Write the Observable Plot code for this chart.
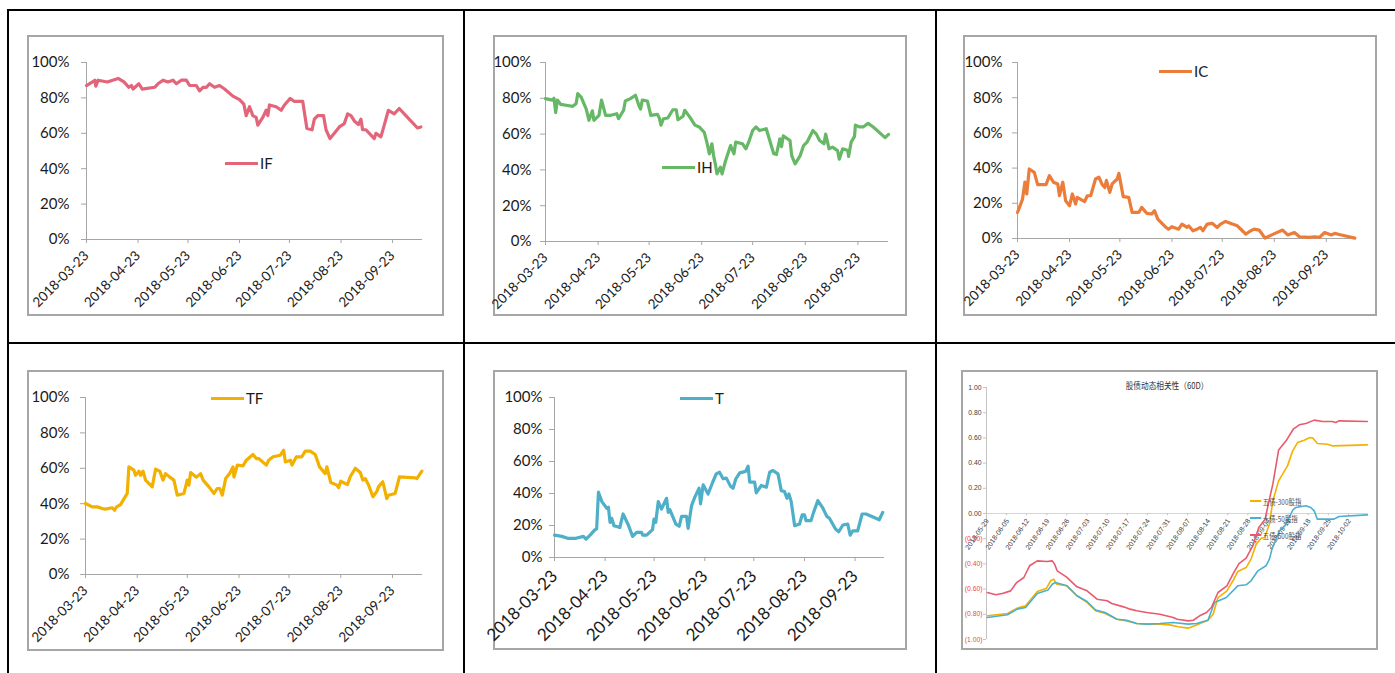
<!DOCTYPE html>
<html><head><meta charset="utf-8">
<script src="https://cdn.jsdelivr.net/npm/d3@7"></script>
<script src="https://cdn.jsdelivr.net/npm/@observablehq/plot@0.6"></script>
<style>
body{margin:0;background:#fff;}
#root{position:relative;width:1395px;height:673px;overflow:hidden;background:#fff;font-family:Lato,sans-serif;}
.rule{position:absolute;background:#000;}
.panel{position:absolute;border:2px solid #a6a6a6;box-sizing:border-box;}
.plot{position:absolute;}
.leg{position:absolute;display:flex;align-items:center;height:18px;font:15px Lato,sans-serif;color:#1a1a1a;white-space:nowrap;}
.leg i{display:inline-block;width:33px;height:3px;margin-right:2px;}
.leg6{position:absolute;display:flex;align-items:center;height:12px;font:8px "Noto Sans CJK SC",sans-serif;color:#505050;white-space:nowrap;transform:scaleX(0.8);transform-origin:left center;}
.leg6 i{display:inline-block;width:14px;height:2px;margin-right:2px;}
.title6{position:absolute;font:9px "Noto Sans CJK SC",sans-serif;color:#303030;white-space:nowrap;transform:translateX(-50%) scaleX(0.85);}
</style></head><body><div id="root"></div>
<script>
// ---------- data ----------
const monthTicks = ["2018-03-23","2018-04-23","2018-05-23","2018-06-23","2018-07-23","2018-08-23","2018-09-23"];
const pctTicks = [0,20,40,60,80,100];
const weekTicks = ["2018-05-29","2018-06-05","2018-06-12","2018-06-19","2018-06-26","2018-07-03","2018-07-10","2018-07-17","2018-07-24","2018-07-31","2018-08-07","2018-08-14","2018-08-21","2018-08-28","2018-09-04","2018-09-11","2018-09-18","2018-09-25","2018-10-02"];
const corrTicksPos = [1,0.8,0.6,0.4,0.2,0];
const corrTicksNeg = [-0.2,-0.4,-0.6,-0.8,-1];
const seriesNames = ["IF","IH","IC","TF","T"];
const corrNames = ["五债-300股指","十债-50股指","五债-500股指"];

// [days since 2018-03-23, percent]
const IF = [[0,87],[3.6,89],[5,90],[5.6,86.6],[7,90],[12.5,89],[19,91],[22.5,89],[25.5,86],[27,87],[28,85],[31.5,88],[33.5,85],[41,86],[43,88],[46,90],[49,89],[52,90],[54,88],[57,90],[60,90],[62,87],[66,87],[68,84],[70,86],[72,86],[74,88],[77,86],[80,87],[83,85],[88,81],[92,79],[94.6,76.5],[96,70],[98,75],[100,70],[102,69],[103,64.6],[106,69],[108,73],[109,70],[110,76],[114,75],[117,73],[119,76],[122.5,79.7],[125,78],[130,78],[132.5,62.7],[135.6,62],[137,68],[139,70],[142.5,70],[144,62],[146.4,57],[149,60],[152,63.6],[155,65.5],[157,71],[159,70],[161,67],[163.5,65],[165,68],[166,62],[168,62],[172,58],[173,57],[174,60],[177,58],[179,64.6],[181.5,73],[185,71],[188,74],[192,70],[199,63],[201,63.6]];
const IH = [[0,79.8],[4,79],[5,80],[6,72],[7,79],[9,76.6],[13,76],[16,75.5],[18,77],[19,82.6],[21,80.7],[24,74],[25.6,67.7],[27.6,73],[28.5,67.7],[31.5,70.5],[33,79],[35.4,70.5],[38.4,70.5],[42,71.4],[43,68.6],[46,73.3],[47,78.5],[50,79.8],[53,81.7],[55,76],[56,74],[57,79],[60,78.5],[62,70.5],[66,71],[67,69],[68,65],[69.5,68.6],[72,69],[75,73.6],[77,73.6],[78,68],[81,70],[82,73.3],[85,69.5],[88,65],[90.5,64],[93.5,61],[95,55.5],[96.5,49],[98,54.6],[99,48],[100,43.4],[101,37.8],[103,41.5],[104,37.8],[106,45],[109,53.6],[111,49],[112,55.5],[116,54.6],[118,51.8],[120,56.4],[122,62],[124,64],[126,62],[130,63],[134.4,49],[136,48.6],[138,57.4],[139,53],[140,59],[144,56.4],[145,48],[147,43.4],[150,48],[152,53.6],[154,55.5],[157.5,62],[159.5,60],[161.4,56.4],[164,54.6],[165,60],[167,51.8],[169,52.7],[172,50.8],[173,46],[175,51.8],[178,50.8],[178.5,47.5],[180,55.5],[182,58.7],[182.5,65],[185,64],[187,64],[190,66],[193,64],[200,58],[202,59.8]];
const IC = [[0,14.8],[3,22.4],[4.4,32],[5.5,25.3],[7,39.5],[10,37.6],[12,30.6],[17,30.6],[19,35.7],[21.4,32],[24,31],[25,24.3],[27,32],[28.7,21.5],[31,18.6],[32.7,25.3],[34.6,19.6],[35.6,23.4],[40,21],[41.6,24.3],[43.6,24.3],[46.5,33.8],[48.5,34.8],[50.5,30.6],[52,29],[53,33],[55,26.2],[56.4,31],[59.4,33.8],[60.4,37],[63,23.8],[66.3,23.4],[68.3,14.8],[72.3,14.8],[74,17.7],[77,14.3],[80,13.9],[81.6,15.8],[83.6,11],[88,6.7],[90,5.3],[92,6.7],[96,5.3],[98,8.2],[101,6.3],[102,7.2],[104.5,4.4],[107,5.3],[109,6.3],[110.5,4.4],[113,8.2],[116,8.6],[119,6.3],[121,8.2],[124,9.7],[128,8.2],[131,7.2],[134,4.4],[136,2.5],[139,4.4],[141,5.3],[144,4.8],[147.5,0.2],[152.5,2.5],[158,4.8],[161,2],[165,3.4],[168,1],[174,0.6],[177,1],[180,0.6],[183,3.4],[187,2],[189,2.9],[193,2],[201,0.2]];
const TF = [[0,40.1],[4,38.2],[7,38.2],[10,37.3],[12,36.9],[16,37.7],[17.4,36.3],[18.6,38.2],[21,39.5],[25,45.8],[26,60.8],[29,59],[30,56],[32,58.4],[33,56],[34.5,58.4],[36,53.3],[40,49.5],[42,59.5],[44.5,58.4],[46.5,53.3],[48,57],[50.5,55],[53,53.3],[55,44.8],[59,45.8],[61,53.3],[62,50.5],[63,57.6],[66.5,55],[69,57],[70.5,53.3],[74,49.5],[77,45.8],[79,48.6],[80.5,48.6],[82,44.8],[84,54.2],[86.4,57],[88.4,60.8],[89,55],[91,61.8],[94.4,61.4],[96.4,64.6],[100.4,67.8],[102.4,65.5],[103.8,65.5],[108.4,61.8],[109.8,64.6],[112.4,66.5],[116.8,67.4],[118.8,70.2],[119.8,63.6],[122.8,64.6],[123.8,61.8],[126.4,66.5],[129.7,66.5],[131.7,69.7],[134.7,69.7],[137.7,67.8],[140.3,60.8],[143.7,57],[144.7,60.8],[147,52],[150.7,50.5],[151.7,49],[153,52.7],[157,50.8],[158.7,55.2],[161.7,60],[164.7,57.6],[166.3,53.3],[167.7,54.2],[169.7,50.5],[172.3,43.9],[174.7,47],[175.6,49.5],[178.2,52.4],[180.6,42.9],[181.6,44.8],[185.6,45.8],[188.2,55.2],[197.6,54.6],[198.6,54.2],[201.6,58.4]];
const T = [[0,14],[4.5,13.2],[8.5,11.9],[12.6,11.9],[17.7,13.2],[19.3,11.5],[21.8,14],[24.8,17.4],[25.8,17.8],[26.9,40.8],[29,34.9],[32,30.8],[33,31.4],[34,22],[35,24.5],[36.4,19.9],[40,18.8],[42,27.2],[45.2,20.3],[47.8,13.2],[50.3,15.7],[53.3,15.7],[54,14],[56.4,14],[60,17.4],[60.9,24],[62,22],[63.5,34.9],[65.5,30.3],[68.6,37],[69.6,28.2],[70.6,29.9],[74.3,20.9],[76.3,19.5],[77.8,25.7],[80.8,25.7],[81.8,18.2],[83.9,32.4],[85.9,37.7],[88.5,43.3],[89.4,33.5],[91,45.4],[94,39.7],[97,47.5],[99,52.3],[101,53.3],[103.2,49.2],[105.2,49.6],[107.7,44.6],[109.3,43.3],[111,49.2],[113.4,52.9],[117,53.8],[118.5,57.1],[119.5,47.1],[122.5,47.1],[123.5,40.4],[126.6,45],[129.7,43.9],[131.7,53.3],[133.7,54.4],[136.8,52.3],[138.8,41.8],[140.8,41.2],[142.3,37],[143.5,39.7],[144.9,34.9],[147,19.9],[150,20.9],[151.6,26.6],[153,26.6],[154,23],[157,23],[158.6,28.2],[161.2,35.6],[164.3,30.8],[166.7,25.7],[168.3,24.5],[172,17.8],[174,16.1],[176.5,20.3],[179.5,20.9],[181,14],[182.6,16.7],[185.6,16.7],[188.3,27.2],[190.7,27.2],[197.8,24.1],[198.8,23.6],[200.9,28.2]];

// [days since 2018-05-29, correlation]
const corr300 = [[0.3,-0.812],[7.3,-0.794],[10.7,-0.751],[13.6,-0.733],[17.7,-0.619],[20.9,-0.593],[22.3,-0.534],[23.4,-0.521],[24.4,-0.561],[28,-0.574],[31.5,-0.653],[35,-0.706],[38,-0.772],[41.3,-0.794],[45.4,-0.839],[48.8,-0.852],[52.3,-0.873],[55.8,-0.878],[60.4,-0.878],[63.9,-0.884],[66.7,-0.899],[70.2,-0.91],[73.1,-0.884],[77.1,-0.847],[78.9,-0.799],[80.6,-0.667],[83.7,-0.614],[85.8,-0.534],[87.5,-0.46],[90.4,-0.429],[92.1,-0.362],[93.9,-0.243],[95.6,-0.196],[96.8,-0.19],[98.5,-0.085],[99.7,0.1],[101.7,0.259],[104.8,0.378],[106.6,0.497],[108.3,0.563],[110.6,0.582],[112.6,0.603],[113.7,0.598],[115.2,0.556],[118.7,0.55],[120.4,0.537],[132.6,0.545]];
const corr50 = [[0.3,-0.825],[7.3,-0.804],[10.7,-0.759],[13.6,-0.746],[17.7,-0.635],[21.4,-0.608],[22.9,-0.561],[24,-0.548],[28,-0.574],[31.5,-0.653],[35,-0.698],[38,-0.767],[41.3,-0.786],[45.4,-0.839],[48.8,-0.847],[52.3,-0.873],[55.8,-0.878],[60.4,-0.873],[65,-0.865],[70.2,-0.878],[73.1,-0.873],[77.1,-0.847],[79.4,-0.706],[83.5,-0.667],[87.5,-0.574],[90.4,-0.566],[92.1,-0.534],[94.5,-0.455],[97.3,-0.415],[98.5,-0.362],[99.4,-0.283],[102,-0.138],[104.3,-0.085],[106.6,0.026],[107.7,0.048],[111.2,0.061],[112.9,0.048],[114.1,0.021],[115.2,-0.045],[119.9,-0.045],[121,-0.045],[122.7,-0.024],[132.6,-0.011]];
const corr500 = [[0.3,-0.627],[3.2,-0.645],[5.5,-0.635],[8.4,-0.614],[10.5,-0.548],[13,-0.508],[15,-0.415],[17.7,-0.376],[21,-0.381],[22.9,-0.376],[23.7,-0.402],[24.6,-0.455],[27.8,-0.503],[31.5,-0.582],[35,-0.614],[38.5,-0.68],[42,-0.693],[43.6,-0.714],[47.7,-0.741],[50,-0.759],[52.3,-0.772],[55.8,-0.786],[60.4,-0.799],[65,-0.825],[66.4,-0.839],[70.2,-0.852],[72,-0.847],[74.2,-0.812],[76.6,-0.786],[78.3,-0.746],[80.6,-0.627],[83.7,-0.574],[85.8,-0.481],[87.9,-0.397],[90.4,-0.354],[92.7,-0.257],[94.8,-0.111],[97,-0.045],[98.5,0.114],[99.7,0.233],[101.7,0.503],[104.3,0.577],[106.8,0.669],[108.9,0.704],[111.2,0.714],[114.1,0.741],[117,0.73],[120.4,0.73],[121.6,0.722],[122.7,0.735],[132.6,0.73]];

// ---------- drawing ----------
const root = document.getElementById("root");
const parse = d3.utcParse("%Y-%m-%d");
const fmtDate = d3.utcFormat("%Y-%m-%d");
const DAY = 864e5;
const start1 = parse("2018-03-23"), end1 = parse("2018-10-11");
const start6 = parse("2018-05-29"), end6 = parse("2018-10-09");
const toRows = (pairs, base) => pairs.map(([d, v]) => ({date: new Date(base.getTime() + d * DAY), v}));

function div(cls, css, html) {
  const e = document.createElement("div");
  e.className = cls;
  Object.assign(e.style, css);
  if (html != null) e.innerHTML = html;
  root.appendChild(e);
  return e;
}
function place(svg, left, top) {
  const w = document.createElement("div");
  w.className = "plot";
  w.style.left = left + "px"; w.style.top = top + "px";
  w.appendChild(svg);
  root.appendChild(w);
}

const axisGray = "#a6a6a6";
function pctPanel(p) {
  div("panel", {left: p.left + "px", top: p.top + "px", width: p.w + "px", height: p.h + "px"});
  const svg = Plot.plot({
    width: p.w, height: p.h,
    marginLeft: p.ml, marginRight: p.mr, marginTop: p.mt, marginBottom: p.mb,
    style: {fontFamily: "Lato, sans-serif", color: "#1a1a1a", background: "transparent", overflow: "visible"},
    x: {type: "utc", domain: [start1, end1], label: null, axis: null},
    y: {domain: [0, 100], label: null, axis: null},
    marks: [
      Plot.ruleY([0], {stroke: axisGray}),
      Plot.ruleX([start1], {stroke: axisGray}),
      Plot.axisY({ticks: pctTicks, tickFormat: d => d + "%", tickSize: 5, tickPadding: p.yp, stroke: axisGray, fill: "#1a1a1a", fontSize: 15, label: null}),
      Plot.axisX({ticks: monthTicks.map(parse), tickFormat: fmtDate, tickRotate: -45, tickSize: 4, tickPadding: p.xp, stroke: axisGray, fill: "#1a1a1a", fontSize: p.xfs, label: null}),
      Plot.line(toRows(p.data, start1), {x: "date", y: "v", stroke: p.color, strokeWidth: 3.2, strokeLinejoin: "round", strokeLinecap: "round"})
    ]
  });
  place(svg, p.left, p.top);
  div("leg", {left: p.lx + "px", top: (p.ly - 9) + "px"}, `<i style="background:${p.color}"></i>${p.name}`);
}

const colors = {IF: "#e2657a", IH: "#66b866", IC: "#ec7c3a", TF: "#f2b100", T: "#4eafc8"};
const data = {IF, IH, IC, TF, T};
const layout = {
  IF: {left: 27, top: 35, w: 417, h: 281, ml: 59, mr: 22, mt: 27, mb: 77, xfs: 13.5, xp: 10, yp: 12, lx: 225, ly: 163},
  IH: {left: 493, top: 35, w: 414, h: 281, ml: 52, mr: 19, mt: 27, mb: 75, xfs: 13.5, xp: 10, yp: 9, lx: 662, ly: 167},
  IC: {left: 963, top: 35, w: 414, h: 281, ml: 54, mr: 21, mt: 27, mb: 78, xfs: 13.5, xp: 10, yp: 10, lx: 1159, ly: 71},
  TF: {left: 27, top: 370, w: 417, h: 281, ml: 58, mr: 22, mt: 27, mb: 77, xfs: 13.5, xp: 10, yp: 11, lx: 211, ly: 398},
  T:  {left: 493, top: 370, w: 414, h: 280, ml: 61, mr: 23, mt: 27, mb: 93, xfs: 17, xp: 12, yp: 7, lx: 680, ly: 398}
};
for (const name of seriesNames) pctPanel({...layout[name], name, color: colors[name], data: data[name]});

// panel 6
{
  const left = 961, top = 370, w = 417, h = 280;
  div("panel", {left: left + "px", top: top + "px", width: w + "px", height: h + "px"});
  const c6 = {"五债-300股指": "#f5b000", "十债-50股指": "#4ab0d0", "五债-500股指": "#e95a6e"};
  const corrData = [corr300, corr50, corr500];
  const fmt6 = d => d < 0 ? `(${(-d).toFixed(2)})` : d.toFixed(2);
  const g6 = "#c4c4c4";
  const svg = Plot.plot({
    width: w, height: h, marginLeft: 25, marginRight: 10, marginTop: 17, marginBottom: 11,
    style: {fontFamily: "'Liberation Sans', sans-serif", background: "transparent", overflow: "visible"},
    x: {type: "utc", domain: [start6, end6], label: null, axis: null},
    y: {domain: [-1, 1], label: null, axis: null},
    marks: [
      Plot.ruleX([start6], {stroke: g6}),
      Plot.ruleY([0], {stroke: "#d6d6d6"}),
      Plot.axisY({ticks: corrTicksPos, tickFormat: fmt6, tickSize: 3, tickPadding: 2, stroke: g6, fill: "#404040", fontSize: 6.8, label: null}),
      Plot.axisY({ticks: corrTicksNeg, tickFormat: fmt6, tickSize: 3, tickPadding: 1, stroke: g6, fill: "#f04848", fontSize: 6.8, label: null}),
      Plot.ruleX(weekTicks.map(parse), {x: d => d, y1: 0, y2: -0.018, stroke: g6}),
      Plot.text(weekTicks.map(parse), {x: d => d, y: 0, text: d => fmtDate(d), rotate: -55, textAnchor: "end", dy: 6, dx: 1, fontSize: 7, fill: "#404040"}),
      ...corrNames.map((n, i) => Plot.line(toRows(corrData[i], start6), {x: "date", y: "v", stroke: c6[n], strokeWidth: 1.6, strokeLinejoin: "round"}))
    ]
  });
  place(svg, left, top);
  div("title6", {left: "1167px", top: "379px"}, "股债动态相关性（60D）");
  const legY = [501, 518, 535];
  corrNames.forEach((n, i) => div("leg6", {left: "1250px", top: (legY[i] - 6) + "px"}, `<i style="background:${c6[n]}"></i>${n}`));
}

// table rules
div("rule", {left: "7px", top: "9px", width: "1388px", height: "2px"});
div("rule", {left: "7px", top: "9px", width: "2px", height: "664px"});
div("rule", {left: "463px", top: "9px", width: "2px", height: "664px"});
div("rule", {left: "935px", top: "9px", width: "2px", height: "664px"});
div("rule", {left: "7px", top: "342px", width: "1388px", height: "2px"});
</script></body></html>
